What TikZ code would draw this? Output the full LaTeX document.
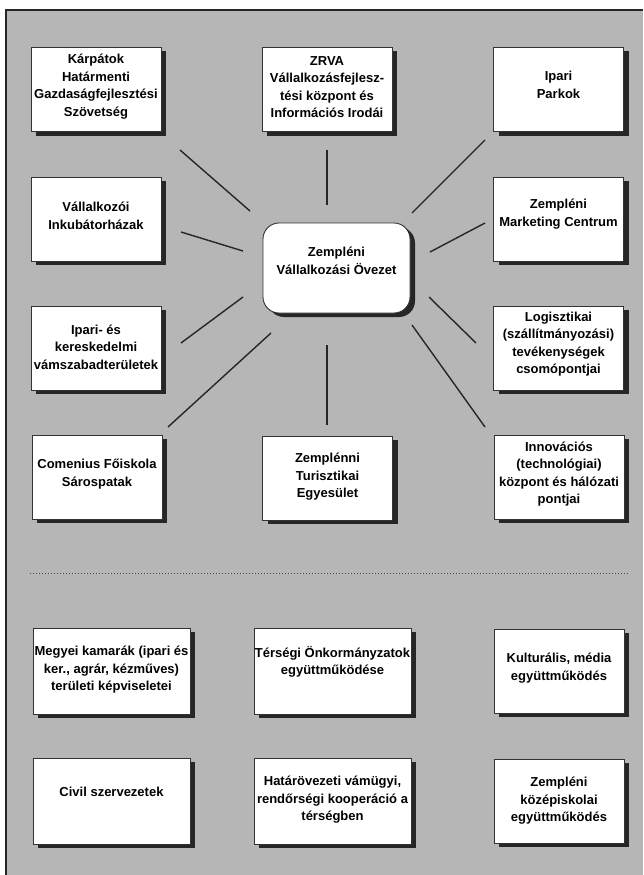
\documentclass[tikz,border=0pt]{standalone}
\usepackage{fontspec}
\setmainfont{Liberation Sans}
\usetikzlibrary{shadows}
\definecolor{bg}{HTML}{B6B6B6}
\definecolor{shade}{HTML}{262626}
\begin{document}
\begin{tikzpicture}[x=1pt,y=-1pt,
  box/.style={draw=black!80, line width=0.9pt, fill=white, minimum width=130pt, minimum height=84pt, inner sep=0pt,
    drop shadow={shadow xshift=5pt, shadow yshift=-4pt, fill=shade, opacity=1}},
  wide/.style={box, minimum width=157pt, minimum height=86pt},
  hub/.style={box, minimum width=147pt, minimum height=90pt, rounded corners=16pt},
  txt/.style={font=\bfseries\fontsize{13}{17.5}\selectfont, align=center, text=black, inner sep=0pt},
  conn/.style={line width=1.4pt, draw=black!85}]
\useasboundingbox (0,0) rectangle (643,875);
\fill[white] (0,0) rectangle (643,875);
\fill[bg] (6,10) rectangle (643,875);
\draw[line width=1.2pt, black!85] (6,875) -- (6,10) -- (643,10);

% boxes (white part)
\node[box] (b1) at (96,89.5) {};
\node[txt] (t1) at ([yshift=3pt]b1.center) {Kárpátok\\Határmenti\\Gazdaságfejlesztési\\Szövetség};
\node[box] (b2) at (327,89.5) {};
\node[txt] (t2) at ([yshift=2.5pt]b2.center) {ZRVA\\Vállalkozásfejlesz-\\tési központ és\\Információs Irodái};
\node[box] (b3) at (558.5,89.5) {};
\node[txt] (t3) at ([yshift=4.5pt]b3.center) {Ipari\\Parkok};

\node[box] (b4) at (96,219) {};
\node[txt] (t4) at ([yshift=3pt]b4.center) {Vállalkozói\\Inkubátorházak};
\node[box] (b5) at (558.5,219) {};
\node[txt] (t5) at ([yshift=5pt]b5.center) {Zempléni\\Marketing Centrum};

\node[hub] (hub) at (336.5,268) {};
\node[txt] (th) at ([yshift=7pt]hub.center) {Zempléni\\Vállalkozási Övezet};

\node[box] (b6) at (96,348) {};
\node[txt] (t6) at ([yshift=1pt]b6.center) {Ipari- és\\kereskedelmi\\vámszabadterületek};
\node[box] (b7) at (558.5,348) {};
\node[txt] (t7) at ([yshift=4pt]b7.center) {Logisztikai\\(szállítmányozási)\\tevékenységek\\csomópontjai};

\node[box] (b8) at (97,477) {};
\node[txt] (t8) at ([yshift=3pt]b8.center) {Comenius Főiskola\\Sárospatak};
\node[box] (b9) at (327.5,478) {};
\node[txt] (t9) at ([yshift=1pt]b9.center) {Zemplénni\\Turisztikai\\Egyesület};
\node[box] (b10) at (559,477) {};
\node[txt] (t10) at ([yshift=3pt]b10.center) {Innovációs\\(technológiai)\\központ és hálózati\\pontjai};

\draw[dotted, line width=1pt, black!70] (30,573) -- (628,573);

\node[wide] (b11) at (111.5,671) {};
\node[txt] (t11) at ([yshift=1pt]b11.center) {Megyei kamarák (ipari és\\ker., agrár, kézműves)\\területi képviseletei};
\node[wide] (b12) at (332.5,671) {};
\node[txt] (t12) at ([yshift=9pt]b12.center) {Térségi Önkormányzatok\\együttműködése};
\node[box] (b13) at (559,671) {};
\node[txt] (t13) at ([yshift=3pt]b13.center) {Kulturális, média\\együttműködés};

\node[wide] (b14) at (111.5,801) {};
\node[txt] (t14) at ([yshift=9pt]b14.center) {Civil szervezetek};
\node[wide] (b15) at (332.5,801) {};
\node[txt] (t15) at ([yshift=1pt]b15.center) {Határövezeti vámügyi,\\rendőrségi kooperáció a\\térségben};
\node[box] (b16) at (559,801) {};
\node[txt] (t16) at (b16.center) {Zempléni\\középiskolai\\együttműködés};

% connector end points
\coordinate (c1a) at (180,150);  \coordinate (c1b) at (250,211);
\coordinate (c2a) at (327,150);  \coordinate (c2b) at (327,205);
\coordinate (c3a) at (485,140);  \coordinate (c3b) at (412,213);
\coordinate (c4a) at (181,232);  \coordinate (c4b) at (243,251);
\coordinate (c5a) at (485,223);  \coordinate (c5b) at (430,252);
\coordinate (c6a) at (181,343);  \coordinate (c6b) at (243,297);
\coordinate (c7a) at (476,343);  \coordinate (c7b) at (429,297);
\coordinate (c8a) at (168,427);  \coordinate (c8b) at (271,333);
\coordinate (c9a) at (327,425);  \coordinate (c9b) at (327,345);
\coordinate (c10a) at (485,427); \coordinate (c10b) at (412,325);
\foreach \i in {1,...,10} \draw[conn] (c\i a) -- (c\i b);
\end{tikzpicture}
\end{document}
